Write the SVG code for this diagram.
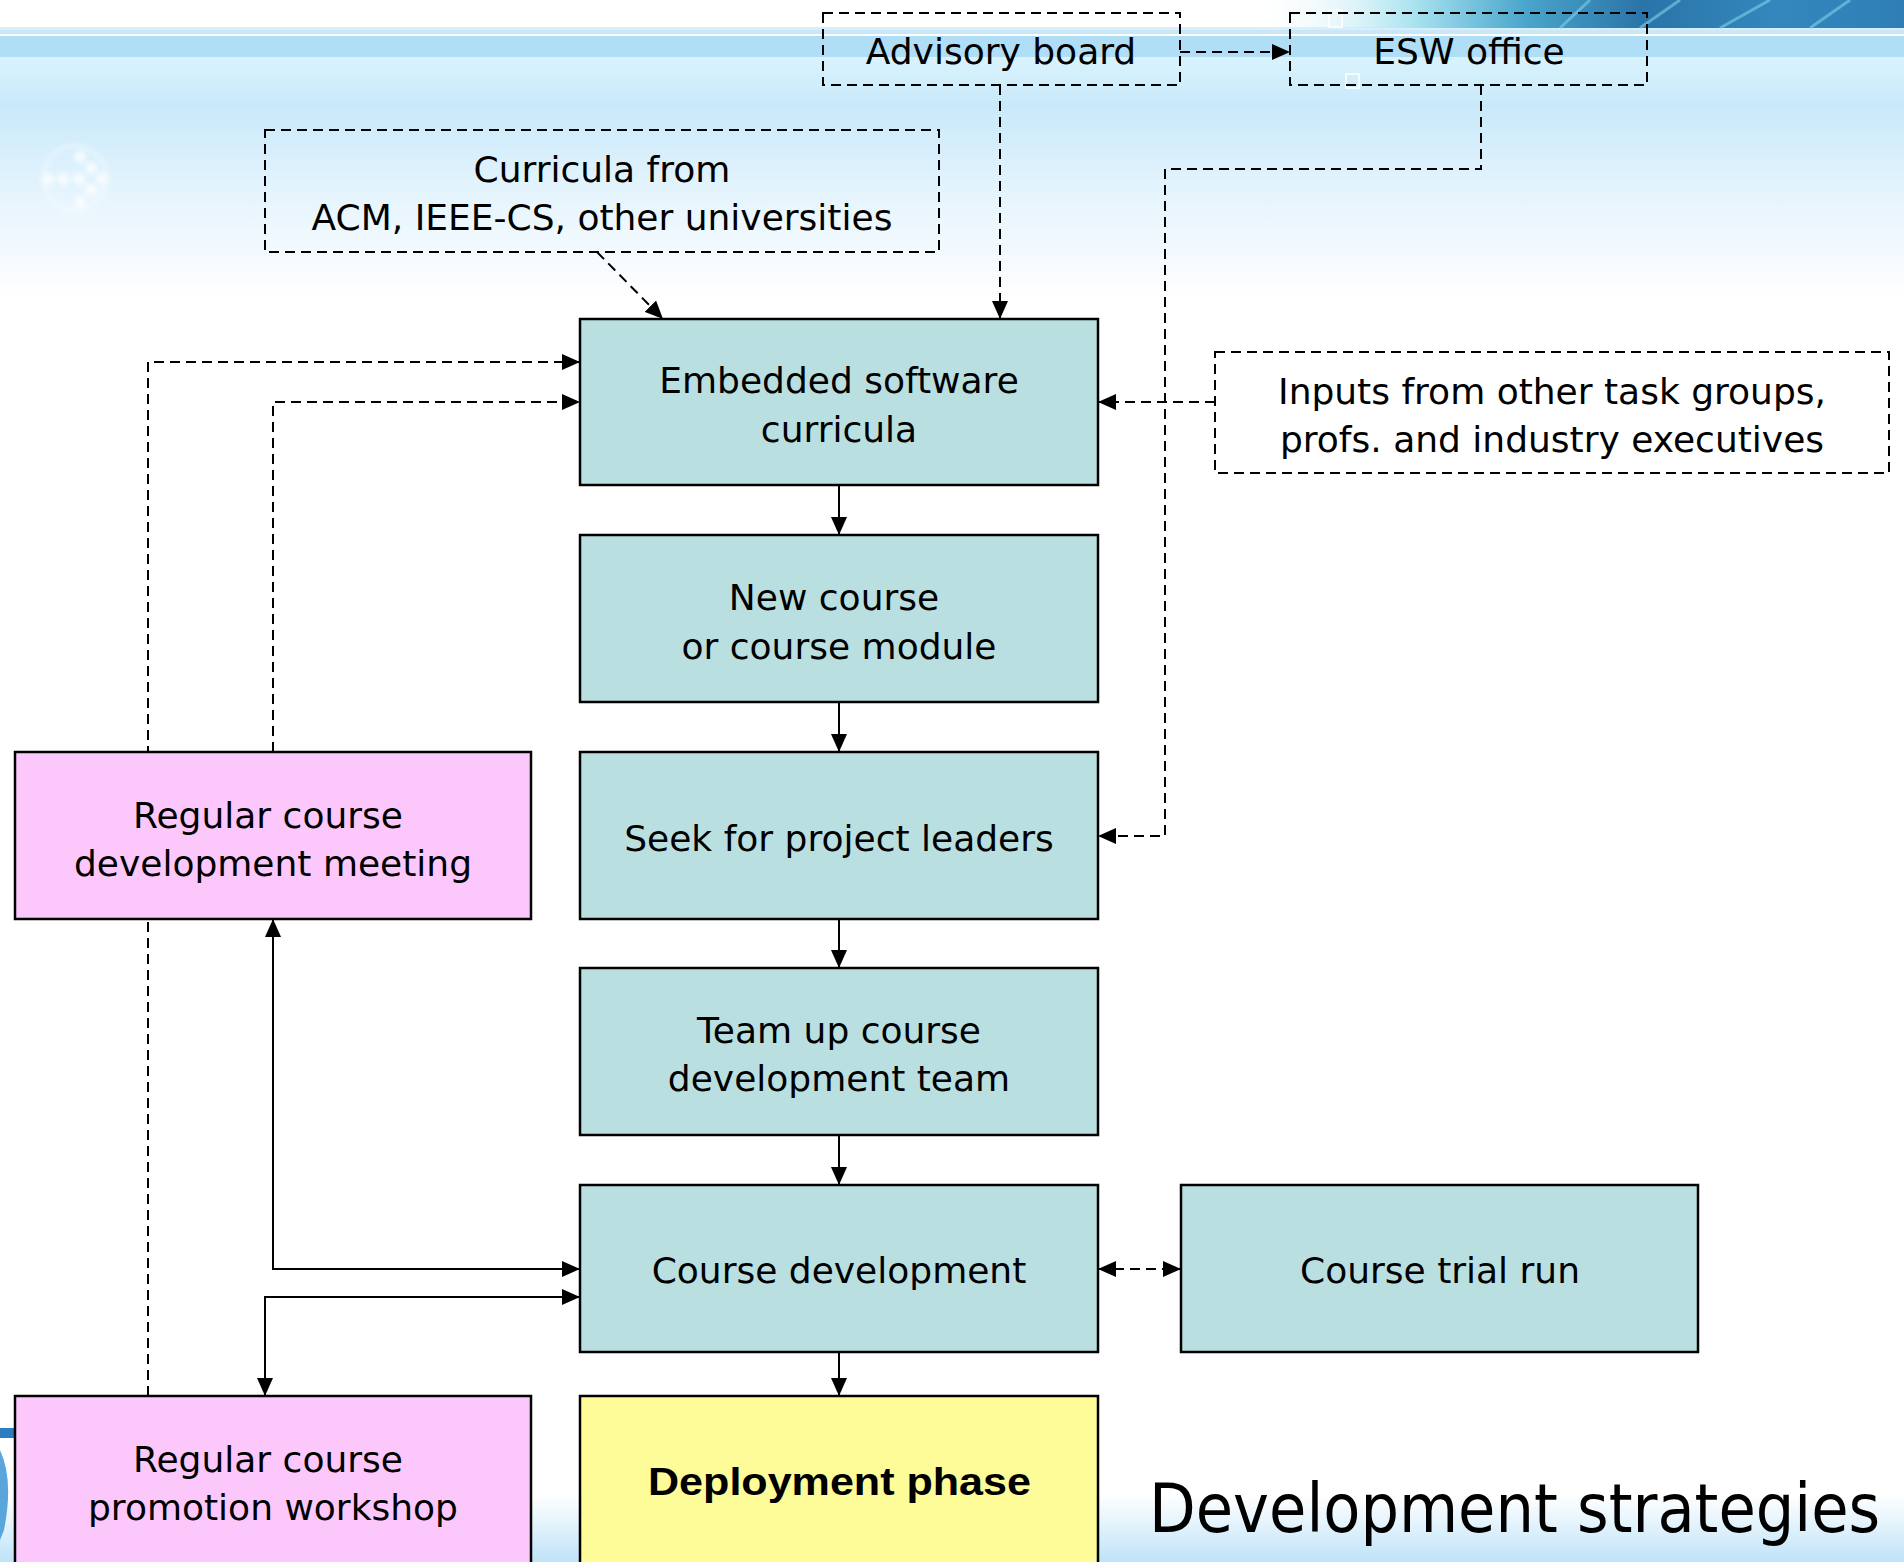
<svg xmlns="http://www.w3.org/2000/svg" width="1904" height="1562" viewBox="0 0 1904 1562">
  <defs>
    <style>
      .box { stroke: #000; stroke-width: 2.5; }
      .teal { fill: #badfe1; }
      .pink { fill: #fcc8fc; }
      .yellow { fill: #fdfc99; }
      .dbox { fill: none; stroke: #000; stroke-width: 2; stroke-dasharray: 10 6; }
      .solid { fill: none; stroke: #000; stroke-width: 2; }
      .dash { fill: none; stroke: #000; stroke-width: 2; stroke-dasharray: 10 6; }
      .lbl { font-family: "DejaVu Sans", Verdana, sans-serif; font-size: 36px; fill: #000; text-anchor: middle; }
      .bold { font-family: "Liberation Sans", Arial, sans-serif; font-size: 38px; font-weight: bold; fill: #000; }
      .title { font-family: "DejaVu Sans", Verdana, sans-serif; font-size: 68px; fill: #000; }
    </style>
    <marker id="arrow" viewBox="0 0 18 16" refX="18" refY="8" markerWidth="18" markerHeight="16" markerUnits="userSpaceOnUse" orient="auto-start-reverse">
      <path d="M0,0 L18,8 L0,16 Z" fill="#000"/>
    </marker>
    <linearGradient id="skyFade" x1="0" y1="0" x2="0" y2="1">
      <stop offset="0" stop-color="#d9f3fd"/>
      <stop offset="0.2" stop-color="#c9e9fa"/>
      <stop offset="0.55" stop-color="#e4f4fd"/>
      <stop offset="1" stop-color="#ffffff"/>
    </linearGradient>
    <linearGradient id="cornerTR" x1="0" y1="0" x2="1" y2="0">
      <stop offset="0" stop-color="#ffffff" stop-opacity="0"/>
      <stop offset="0.25" stop-color="#a9e3f0"/>
      <stop offset="0.42" stop-color="#4aa6cc"/>
      <stop offset="0.6" stop-color="#2a74a8"/>
      <stop offset="0.8" stop-color="#3387bd"/>
      <stop offset="1" stop-color="#2f7fb6"/>
    </linearGradient>
    <linearGradient id="floor" x1="0" y1="0" x2="0" y2="1">
      <stop offset="0" stop-color="#ffffff"/>
      <stop offset="1" stop-color="#bfe3f8"/>
    </linearGradient>
    <filter id="soft" x="-50%" y="-50%" width="200%" height="200%">
      <feGaussianBlur stdDeviation="2.5"/>
    </filter>
  </defs>

  <!-- slide background -->
  <rect x="0" y="0" width="1904" height="1562" fill="#ffffff"/>
  <rect x="0" y="57" width="1904" height="243" fill="url(#skyFade)"/>
  <rect x="0" y="27" width="1904" height="3" fill="#d8eefa"/>
  <rect x="0" y="30" width="1904" height="4" fill="#c9e7f8"/>
  <rect x="0" y="36" width="1904" height="21" fill="#b0def6"/>
  <rect x="1250" y="0" width="654" height="28" fill="url(#cornerTR)"/>
  <g stroke="#7fd0e8" stroke-width="3" opacity="0.6">
    <line x1="1560" y1="28" x2="1590" y2="0"/>
    <line x1="1640" y1="28" x2="1680" y2="0"/>
    <line x1="1720" y1="28" x2="1770" y2="0"/>
    <line x1="1810" y1="28" x2="1850" y2="0"/>
  </g>
  <g fill="none" stroke="#ffffff" stroke-width="2" opacity="0.8">
    <rect x="1329" y="10" width="13" height="17"/>
    <rect x="1346" y="74" width="13" height="14"/>
  </g>
  <g filter="url(#soft)" opacity="0.75">
    <circle cx="75" cy="178" r="32" fill="none" stroke="#ffffff" stroke-width="2"/>
    <g fill="#ffffff">
      <circle cx="48" cy="179" r="6"/>
      <circle cx="63" cy="179" r="6"/>
      <circle cx="79" cy="179" r="6"/>
      <circle cx="102" cy="179" r="6"/>
      <circle cx="80" cy="157" r="6"/>
      <circle cx="91" cy="168" r="6"/>
      <circle cx="91" cy="190" r="6"/>
      <circle cx="80" cy="202" r="6"/>
    </g>
  </g>
  <rect x="0" y="1495" width="1904" height="67" fill="url(#floor)"/>
  <rect x="0" y="1428" width="16" height="10" fill="#2b7cc0"/>
  <path d="M0,1450 Q14,1480 4,1530 L0,1540 Z" fill="#5aa6dc"/>

  <!-- connectors -->
  <g id="connectors">
    <!-- main chain -->
    <line class="solid" x1="839" y1="486" x2="839" y2="535" marker-end="url(#arrow)"/>
    <line class="solid" x1="839" y1="702" x2="839" y2="752" marker-end="url(#arrow)"/>
    <line class="solid" x1="839" y1="919" x2="839" y2="968" marker-end="url(#arrow)"/>
    <line class="solid" x1="839" y1="1135" x2="839" y2="1185" marker-end="url(#arrow)"/>
    <line class="solid" x1="839" y1="1352" x2="839" y2="1396" marker-end="url(#arrow)"/>
    <!-- course development links -->
    <polyline class="solid" points="273,919 273,1269 580,1269" marker-start="url(#arrow)" marker-end="url(#arrow)"/>
    <polyline class="solid" points="265,1396 265,1297 580,1297" marker-start="url(#arrow)" marker-end="url(#arrow)"/>
    <line class="dash" x1="1098" y1="1269" x2="1181" y2="1269" marker-start="url(#arrow)" marker-end="url(#arrow)"/>
    <!-- feedback into curricula -->
    <polyline class="dash" points="148,1396 148,362 580,362" marker-end="url(#arrow)"/>
    <polyline class="dash" points="273,752 273,402 580,402" marker-end="url(#arrow)"/>
    <!-- external inputs -->
    <line class="dash" x1="1180" y1="52" x2="1290" y2="52" marker-end="url(#arrow)"/>
    <line class="dash" x1="1000" y1="85" x2="1000" y2="319" marker-end="url(#arrow)"/>
    <line class="dash" x1="597" y1="252" x2="663" y2="319" marker-end="url(#arrow)"/>
    <polyline class="dash" points="1481,85 1481,169 1165,169 1165,836 1098,836" marker-end="url(#arrow)"/>
    <line class="dash" x1="1215" y1="402" x2="1098" y2="402" marker-end="url(#arrow)"/>
  </g>

  <!-- external sources -->
  <g id="n-advisory">
    <rect class="dbox" x="823" y="13" width="357" height="72"/>
    <text class="lbl" x="1001" y="64">Advisory board</text>
  </g>
  <g id="n-esw">
    <rect class="dbox" x="1290" y="13" width="357" height="72"/>
    <text class="lbl" x="1469" y="64">ESW office</text>
  </g>
  <g id="n-curricula-src">
    <rect class="dbox" x="265" y="130" width="674" height="122"/>
    <text class="lbl" x="602" y="182">Curricula from</text>
    <text class="lbl" x="602" y="230">ACM, IEEE-CS, other universities</text>
  </g>
  <g id="n-inputs">
    <rect class="dbox" x="1215" y="352" width="674" height="121"/>
    <text class="lbl" x="1552" y="404">Inputs from other task groups,</text>
    <text class="lbl" x="1552" y="452">profs. and industry executives</text>
  </g>

  <!-- process chain -->
  <g id="n-embedded">
    <rect class="box teal" x="580" y="319" width="518" height="166"/>
    <text class="lbl" x="839" y="393">Embedded software</text>
    <text class="lbl" x="839" y="442">curricula</text>
  </g>
  <g id="n-newcourse">
    <rect class="box teal" x="580" y="535" width="518" height="167"/>
    <text class="lbl" x="834" y="610">New course</text>
    <text class="lbl" x="839" y="659">or course module</text>
  </g>
  <g id="n-seek">
    <rect class="box teal" x="580" y="752" width="518" height="167"/>
    <text class="lbl" x="839" y="851">Seek for project leaders</text>
  </g>
  <g id="n-teamup">
    <rect class="box teal" x="580" y="968" width="518" height="167"/>
    <text class="lbl" x="839" y="1043">Team up course</text>
    <text class="lbl" x="839" y="1091">development team</text>
  </g>
  <g id="n-coursedev">
    <rect class="box teal" x="580" y="1185" width="518" height="167"/>
    <text class="lbl" x="839" y="1283">Course development</text>
  </g>
  <g id="n-trial">
    <rect class="box teal" x="1181" y="1185" width="517" height="167"/>
    <text class="lbl" x="1440" y="1283">Course trial run</text>
  </g>
  <g id="n-deploy">
    <rect class="box yellow" x="580" y="1396" width="518" height="180"/>
    <text class="bold" x="648" y="1495" textLength="383" lengthAdjust="spacingAndGlyphs">Deployment phase</text>
  </g>

  <!-- recurring activities -->
  <g id="n-meeting">
    <rect class="box pink" x="15" y="752" width="516" height="167"/>
    <text class="lbl" x="268" y="828">Regular course</text>
    <text class="lbl" x="273" y="876">development meeting</text>
  </g>
  <g id="n-workshop">
    <rect class="box pink" x="15" y="1396" width="516" height="180"/>
    <text class="lbl" x="268" y="1472">Regular course</text>
    <text class="lbl" x="273" y="1520">promotion workshop</text>
  </g>

  <!-- slide title, condensed horizontally -->
  <text class="title" transform="translate(1149,1532) scale(0.893,1)" x="0" y="0">Development strategies</text>
</svg>
